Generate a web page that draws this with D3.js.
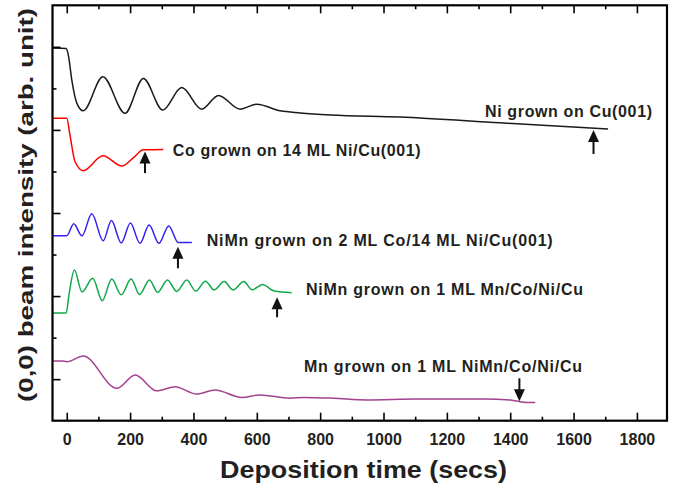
<!DOCTYPE html>
<html>
<head>
<meta charset="utf-8">
<script src="https://cdn.jsdelivr.net/npm/d3@7"></script>
<style>
  body { margin: 0; background: #fff; }
  svg { display: block; }
  text { font-family: "Liberation Sans", Arial, sans-serif; font-weight: bold; fill: #231f20; }
</style>
</head>
<body>
<script>
// RHEED (0,0) beam intensity vs deposition time
// each series: [time (s), intensity (arb. unit)]
let niOnCu = [[-45, 8.97], [-2, 8.96], [5, 8.80], [16, 8.20], [32, 7.64], [52, 7.46], [114, 8.28],
  [184, 7.40], [242, 8.24], [303, 7.48], [363, 8.02], [426, 7.50], [479, 7.83], [547, 7.50],
  [600, 7.62], [674, 7.46], [737, 7.41], [832, 7.36], [1052, 7.31], [1368, 7.17], [1709, 7.02]];

let coOnNi = [[-45, 7.28], [0, 7.28], [10, 6.88], [26, 6.24], [52, 6.02], [114, 6.38],
  [174, 6.13], [209, 6.32], [242, 6.52], [305, 6.53]];

let niMnOnCo = [[-45, 4.45], [0, 4.45], [22, 4.74], [48, 4.45], [79, 4.98], [115, 4.33],
  [141, 4.82], [172, 4.28], [201, 4.76], [231, 4.27], [260, 4.71], [291, 4.27],
  [322, 4.69], [352, 4.29], [395, 4.29]];

let niMnOnMn = [[-45, 2.59], [-2, 2.59], [7, 3.03], [24, 3.63], [48, 3.10], [82, 3.43],
  [112, 2.89], [142, 3.41], [172, 3.03], [203, 3.41], [230, 3.04], [261, 3.39],
  [287, 3.09], [318, 3.39], [347, 3.11], [379, 3.39], [407, 3.12], [438, 3.36],
  [465, 3.15], [497, 3.35], [525, 3.15], [559, 3.35], [585, 3.15], [618, 3.28],
  [655, 3.12], [710, 3.08]];

let mnOnNiMn = [[-45, 1.44], [-15, 1.44], [1, 1.42], [52, 1.56], [158, 0.78], [216, 1.10],
  [284, 0.72], [342, 0.82], [410, 0.64], [468, 0.74], [553, 0.56], [610, 0.62],
  [705, 0.54], [747, 0.56], [842, 0.54], [947, 0.50], [1105, 0.52], [1316, 0.52],
  [1400, 0.50], [1453, 0.44], [1479, 0.44]];

let seriesNames = ["Ni grown on Cu(001)", "Co grown on 14 ML Ni/Cu(001)",
  "NiMn grown on 2 ML Co/14 ML Ni/Cu(001)", "NiMn grown on 1 ML Mn/Co/Ni/Cu",
  "Mn grown on 1 ML NiMn/Co/Ni/Cu"];

// arrows: time, tip, tail
let arrowTimes = [1663, 247, 351, 664, 1429];
let arrowTips = [7.00, 6.48, 4.19, 2.97, 0.47];
let arrowTails = [6.42, 5.96, 3.67, 2.49, 1.02];

let xMajor = [0, 200, 400, 600, 800, 1000, 1200, 1400, 1600, 1800];
let xMinor = [100, 300, 500, 700, 900, 1100, 1300, 1500, 1700];
let yMajor = [1, 3, 5, 7, 9];
let yMinor = [2, 4, 6, 8];

let colors = ["#1a1a1a", "#ff0000", "#3320f0", "#0fa84a", "#a3418f"];
let allSeries = [niOnCu, coOnNi, niMnOnCo, niMnOnMn, mnOnNiMn];

let width = 676, height = 489;
let plotLeft = 52.5, plotRight = 667, plotTop = 5.3, plotBottom = 420.7;

let svg = d3.select("body").append("svg")
    .attr("width", width)
    .attr("height", height);

let x = d3.scaleLinear().domain([-45, 1895]).range([plotLeft, plotRight]);
let y = d3.scaleLinear().domain([0, 10]).range([plotBottom, plotTop]);

// curves
let line = d3.line()
    .x(function(d){ return x(d[0]); })
    .y(function(d){ return y(d[1]); })
    .curve(d3.curveMonotoneX);

svg.selectAll(".trace")
    .data(allSeries)
    .enter()
    .append("path")
    .attr("class", "trace")
    .attr("d", line)
    .attr("fill", "none")
    .attr("stroke", function(d, i){ return colors[i]; })
    .attr("stroke-width", 1.5);

// axes (ticks inward)
function styleAxis(g){
    g.select(".domain").remove();
    g.selectAll(".tick line").attr("stroke", "#000").attr("stroke-width", 1.6);
}

svg.append("g")
    .attr("transform", "translate(0," + plotBottom + ")")
    .call(d3.axisBottom(x).tickValues(xMajor).tickFormat(d3.format("d"))
        .tickSizeInner(-8).tickSizeOuter(0).tickPadding(12.5))
    .call(styleAxis)
    .selectAll("text")
    .style("font-family", "\"Liberation Sans\", Arial, sans-serif")
    .style("font-weight", "bold")
    .style("font-size", "16px")
    .attr("fill", "#231f20");

svg.append("g")
    .attr("transform", "translate(0," + plotBottom + ")")
    .call(d3.axisBottom(x).tickValues(xMinor).tickSizeInner(-4).tickSizeOuter(0).tickFormat(""))
    .call(styleAxis);

svg.append("g")
    .attr("transform", "translate(0," + plotTop + ")")
    .call(d3.axisTop(x).tickValues(xMajor).tickSizeInner(-8).tickSizeOuter(0).tickFormat(""))
    .call(styleAxis);

svg.append("g")
    .attr("transform", "translate(0," + plotTop + ")")
    .call(d3.axisTop(x).tickValues(xMinor).tickSizeInner(-4).tickSizeOuter(0).tickFormat(""))
    .call(styleAxis);

svg.append("g")
    .attr("transform", "translate(" + plotLeft + ",0)")
    .call(d3.axisLeft(y).tickValues(yMajor).tickSizeInner(-8).tickSizeOuter(0).tickFormat(""))
    .call(styleAxis);

svg.append("g")
    .attr("transform", "translate(" + plotLeft + ",0)")
    .call(d3.axisLeft(y).tickValues(yMinor).tickSizeInner(-4).tickSizeOuter(0).tickFormat(""))
    .call(styleAxis);

// frame
svg.append("rect")
    .attr("x", plotLeft)
    .attr("y", plotTop)
    .attr("width", plotRight - plotLeft)
    .attr("height", plotBottom - plotTop)
    .attr("fill", "none")
    .attr("stroke", "#000")
    .attr("stroke-width", 2.2);

// arrows
let arrows = svg.selectAll(".arrow")
    .data(arrowTimes)
    .enter()
    .append("g")
    .attr("class", "arrow");

arrows.append("line")
    .attr("x1", function(d){ return x(d); })
    .attr("x2", function(d){ return x(d); })
    .attr("y1", function(d, i){ return y(arrowTails[i]); })
    .attr("y2", function(d, i){
        let dir = arrowTips[i] > arrowTails[i] ? 1 : -1;
        return y(arrowTips[i]) + dir * 8;
    })
    .attr("stroke", "#111")
    .attr("stroke-width", 2);

arrows.append("path")
    .attr("d", function(d, i){
        let tx = x(d), ty = y(arrowTips[i]);
        let dir = arrowTips[i] > arrowTails[i] ? 1 : -1;
        let by = ty + dir * 12;
        return "M" + tx + "," + ty + "L" + (tx - 5.5) + "," + by + "L" + (tx + 5.5) + "," + by + "Z";
    })
    .attr("fill", "#111");

// series labels
let labelX = [485, 172.7, 206.7, 306, 304];
let labelY = [117.3, 156, 246, 295, 371.7];
let labelLen = [167, 248, 346, 277, 278];

svg.selectAll(".lbl")
    .data(seriesNames)
    .enter()
    .append("text")
    .attr("class", "lbl")
    .attr("x", function(d, i){ return labelX[i]; })
    .attr("y", function(d, i){ return labelY[i]; })
    .attr("textLength", function(d, i){ return labelLen[i]; })
    .attr("lengthAdjust", "spacing")
    .style("font-size", "16px")
    .text(function(d){ return d; });

// axis titles
svg.append("text")
    .attr("x", 220)
    .attr("y", 478)
    .attr("textLength", 287)
    .attr("lengthAdjust", "spacingAndGlyphs")
    .style("font-size", "24px")
    .text("Deposition time (secs)");

svg.append("text")
    .attr("transform", "translate(33,402) rotate(-90)")
    .attr("x", 0)
    .attr("y", 0)
    .attr("textLength", 394)
    .attr("lengthAdjust", "spacingAndGlyphs")
    .style("font-size", "20px")
    .text("(0,0) beam intensity (arb. unit)");
</script>
</body>
</html>
